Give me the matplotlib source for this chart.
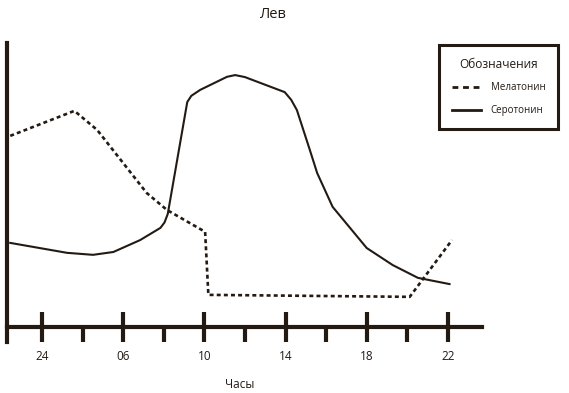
import numpy as np
import matplotlib
matplotlib.use('Agg')
import matplotlib.pyplot as plt
from matplotlib.lines import Line2D

plt.rcParams['font.family'] = ['Open Sans', 'DejaVu Sans']

INK = '#231a14'

# ---- data (x = tick index, y = arbitrary level 0..100) ----
tick_labels = ['24', '06', '10', '14', '18', '22']

mel_x = [-0.39, 0.40, 0.68, 1.29, 1.54, 2.01, 2.05, 4.53, 5.05]
mel_y = [67.3, 76.1, 69.4, 47.2, 41.2, 33.5, 11.3, 10.6, 30.6]

ser_x = [-0.39, 0.31, 0.63, 0.88, 1.21, 1.46, 1.51, 1.55, 1.79, 1.84, 1.95,
         2.28, 2.38, 2.50, 2.99, 3.07, 3.14, 3.30, 3.39, 3.58, 4.00, 4.32,
         4.63, 5.02]
ser_y = [29.6, 26.1, 25.4, 26.4, 30.6, 34.9, 36.8, 39.8, 79.2, 81.4, 83.5,
         88.1, 88.7, 88.0, 82.7, 80.0, 76.4, 62.3, 54.2, 42.3, 27.8, 21.8,
         17.3, 15.1]

W, H = 569, 393
fig = plt.figure(figsize=(W/100, H/100), dpi=100)
ax = fig.add_axes([7/W, (H-342)/H, (482-7)/W, (342-43)/H])

ax.plot(mel_x, mel_y, color=INK, lw=1.9, linestyle=(0, (1.5, 1.2)))
ax.plot(ser_x, ser_y, color=INK, lw=1.5, solid_joinstyle='round')

ax.set_xlim(-0.43, 5.42)
ax.set_ylim(-5.3, 100)

for s in ['top', 'right']:
    ax.spines[s].set_visible(False)
ax.spines['left'].set_linewidth(3)
ax.spines['left'].set_color(INK)
ax.spines['bottom'].set_linewidth(3)
ax.spines['bottom'].set_color(INK)
ax.spines['bottom'].set_position(('data', 0))

ax.set_yticks([])
ax.set_xticks(range(len(tick_labels)))
ax.set_xticklabels(tick_labels)
ax.set_xticks(np.arange(0.5, len(tick_labels) - 1, 1), minor=True)
ax.tick_params(axis='x', which='major', direction='inout', length=21, width=3,
               color=INK, labelsize=8.5, labelcolor=INK, pad=6)
ax.tick_params(axis='x', which='minor', direction='out', length=11, width=3, color=INK)

fig.text(272/W, 1 - 14/H, 'Лев', ha='center', va='center', fontsize=10.5, color=INK)
fig.text(240/W, 1 - 385/H, 'Часы', ha='center', va='center', fontsize=8.5, color=INK)

handles = [Line2D([], [], color=INK, lw=2, linestyle=(0, (2.1, 1.7))),
           Line2D([], [], color=INK, lw=2)]
leg = fig.legend(handles, ['Мелатонин', 'Серотонин'], title='Обозначения',
                 loc='upper right', bbox_to_anchor=(558/W, 1 - 45/H),
                 fontsize=7, title_fontsize=8.6, frameon=True, fancybox=False,
                 framealpha=1, handlelength=3.0, handletextpad=1.0,
                 labelspacing=1.2, borderpad=1.3, borderaxespad=0)
leg.get_frame().set_edgecolor(INK)
leg.get_frame().set_linewidth(2.2)
leg.get_title().set_color(INK)
for t in leg.get_texts():
    t.set_color(INK)

fig.savefig('out.png', dpi=100)
